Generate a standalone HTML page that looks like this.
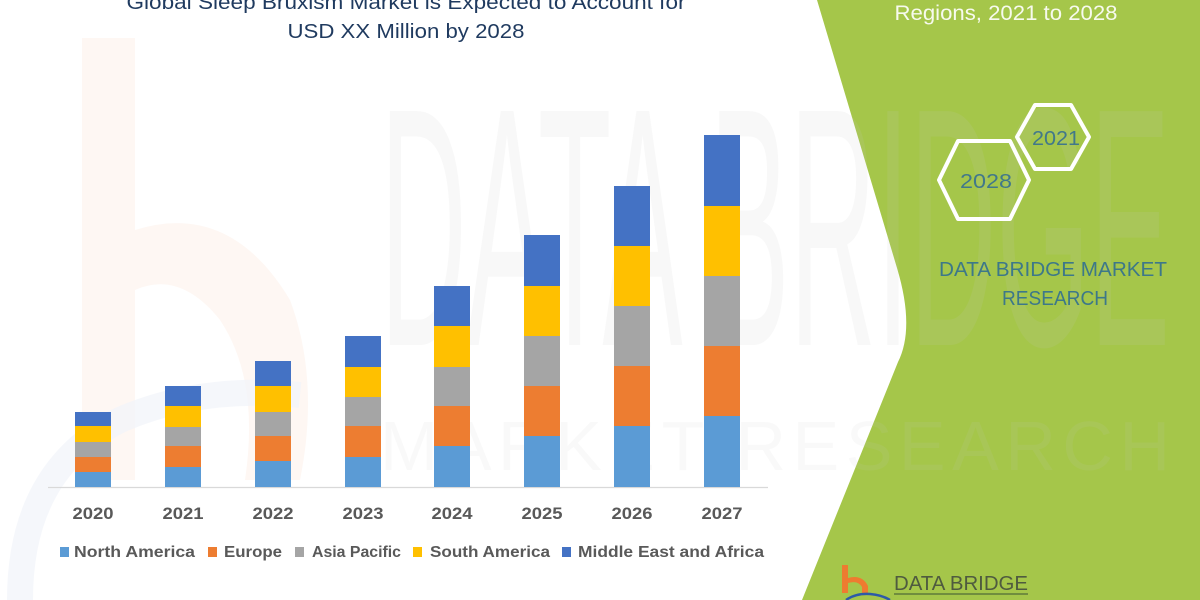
<!DOCTYPE html>
<html>
<head>
<meta charset="utf-8">
<style>
  html,body{margin:0;padding:0;background:#fff;}
  svg{display:block;}
  text{font-family:"Liberation Sans", "DejaVu Sans", sans-serif;}
</style>
</head>
<body>
<svg width="1200" height="600" viewBox="0 0 1200 600" xmlns="http://www.w3.org/2000/svg">
  <rect x="0" y="0" width="1200" height="600" fill="#ffffff"/>

  <!-- faint orange "b" watermark on left -->
  <path d="M82,38 L135,38 L135,230 Q230,200 290,300 Q320,380 300,480 L245,480 Q260,380 220,320 Q180,270 135,290 L135,480 L82,480 Z" fill="#fdf3ee" opacity="0.7"/>
  <!-- faint blue arc bottom-left -->
  <path d="M20,600 Q20,470 120,420 Q200,385 300,395" fill="none" stroke="#f1f4f9" stroke-width="26" opacity="0.7"/>

  <!-- green right panel -->
  <path d="M817,0 L897,268 Q915,328 898,362 L802,600 L1200,600 L1200,0 Z" fill="#a5c64a"/>

  <!-- faint watermark text -->
  <text x="380" y="345" font-size="340" fill="#c8c8c8" opacity="0.12" textLength="790" lengthAdjust="spacingAndGlyphs">DATA BRIDGE</text>
  <text x="380" y="470" font-size="70" fill="#c8c8c8" opacity="0.1" textLength="790" lengthAdjust="spacing">MARKET RESEARCH</text>

  <!-- Title -->
  <text x="406" y="9" font-size="20" fill="#1f3a5f" text-anchor="middle" textLength="559" lengthAdjust="spacingAndGlyphs">Global Sleep Bruxism Market is Expected to Account for</text>
  <text x="406" y="38" font-size="20" fill="#1f3a5f" text-anchor="middle" textLength="237" lengthAdjust="spacingAndGlyphs">USD XX Million by 2028</text>

  <!-- Right panel texts -->
  <text x="1006" y="20" font-size="21" fill="#f7faee" text-anchor="middle" textLength="223" lengthAdjust="spacingAndGlyphs">Regions, 2021 to 2028</text>

  <polygon points="1017,137 1035,105 1071,105 1089,137 1071,169 1035,169" fill="none" stroke="#ffffff" stroke-width="4" stroke-linejoin="round"/>
  <polygon points="939,180 958,141 1010,141 1029,180 1010,219 958,219" fill="none" stroke="#ffffff" stroke-width="4" stroke-linejoin="round"/>
  <text x="1056" y="145" font-size="20" fill="#41788a" text-anchor="middle" textLength="48" lengthAdjust="spacingAndGlyphs">2021</text>
  <text x="986" y="188" font-size="20" fill="#41788a" text-anchor="middle" textLength="52" lengthAdjust="spacingAndGlyphs">2028</text>

  <text x="1053" y="276" font-size="20" fill="#3d7889" text-anchor="middle" textLength="228" lengthAdjust="spacingAndGlyphs">DATA BRIDGE MARKET</text>
  <text x="1055" y="305" font-size="20" fill="#3d7889" text-anchor="middle" textLength="106" lengthAdjust="spacingAndGlyphs">RESEARCH</text>

  <!-- bottom logo -->
  <path d="M842,565 L848,565 L848,578 Q862,574 868,586 L868,593 L862,593 L862,587 Q858,580 848,583 L848,593 L842,593 Z" fill="#ee7b30"/>
  <path d="M846,600 Q856,593 870,594 Q882,595 890,600" fill="none" stroke="#2d5aa8" stroke-width="2.5"/>
  <text x="894" y="590" font-size="20" fill="#4f5b3f" textLength="134" lengthAdjust="spacingAndGlyphs">DATA BRIDGE</text>
  <line x1="894" y1="594" x2="1028" y2="594" stroke="#5e7a3a" stroke-width="1.5"/>

  <!-- Axis line -->
  <line x1="48" y1="487.5" x2="768" y2="487.5" stroke="#d9d9d9" stroke-width="1.2"/>

  <!-- Bars -->
  <g>
    <rect x="75" y="472" width="36" height="15" fill="#5b9bd5"/>
    <rect x="75" y="457" width="36" height="15" fill="#ed7d31"/>
    <rect x="75" y="442" width="36" height="15" fill="#a5a5a5"/>
    <rect x="75" y="426" width="36" height="16" fill="#ffc000"/>
    <rect x="75" y="412" width="36" height="14" fill="#4472c4"/>

    <rect x="165" y="467" width="36" height="20" fill="#5b9bd5"/>
    <rect x="165" y="446" width="36" height="21" fill="#ed7d31"/>
    <rect x="165" y="427" width="36" height="19" fill="#a5a5a5"/>
    <rect x="165" y="406" width="36" height="21" fill="#ffc000"/>
    <rect x="165" y="386" width="36" height="20" fill="#4472c4"/>

    <rect x="255" y="461" width="36" height="26" fill="#5b9bd5"/>
    <rect x="255" y="436" width="36" height="25" fill="#ed7d31"/>
    <rect x="255" y="412" width="36" height="24" fill="#a5a5a5"/>
    <rect x="255" y="386" width="36" height="26" fill="#ffc000"/>
    <rect x="255" y="361" width="36" height="25" fill="#4472c4"/>

    <rect x="345" y="457" width="36" height="30" fill="#5b9bd5"/>
    <rect x="345" y="426" width="36" height="31" fill="#ed7d31"/>
    <rect x="345" y="397" width="36" height="29" fill="#a5a5a5"/>
    <rect x="345" y="367" width="36" height="30" fill="#ffc000"/>
    <rect x="345" y="336" width="36" height="31" fill="#4472c4"/>

    <rect x="434" y="446" width="36" height="41" fill="#5b9bd5"/>
    <rect x="434" y="406" width="36" height="40" fill="#ed7d31"/>
    <rect x="434" y="367" width="36" height="39" fill="#a5a5a5"/>
    <rect x="434" y="326" width="36" height="41" fill="#ffc000"/>
    <rect x="434" y="286" width="36" height="40" fill="#4472c4"/>

    <rect x="524" y="436" width="36" height="51" fill="#5b9bd5"/>
    <rect x="524" y="386" width="36" height="50" fill="#ed7d31"/>
    <rect x="524" y="336" width="36" height="50" fill="#a5a5a5"/>
    <rect x="524" y="286" width="36" height="50" fill="#ffc000"/>
    <rect x="524" y="235" width="36" height="51" fill="#4472c4"/>

    <rect x="614" y="426" width="36" height="61" fill="#5b9bd5"/>
    <rect x="614" y="366" width="36" height="60" fill="#ed7d31"/>
    <rect x="614" y="306" width="36" height="60" fill="#a5a5a5"/>
    <rect x="614" y="246" width="36" height="60" fill="#ffc000"/>
    <rect x="614" y="186" width="36" height="60" fill="#4472c4"/>

    <rect x="704" y="416" width="36" height="71" fill="#5b9bd5"/>
    <rect x="704" y="346" width="36" height="70" fill="#ed7d31"/>
    <rect x="704" y="276" width="36" height="70" fill="#a5a5a5"/>
    <rect x="704" y="206" width="36" height="70" fill="#ffc000"/>
    <rect x="704" y="135" width="36" height="71" fill="#4472c4"/>
  </g>

  <!-- Year labels -->
  <g font-size="17" font-weight="bold" fill="#595959" text-anchor="middle">
    <text x="93" y="519" textLength="41" lengthAdjust="spacingAndGlyphs">2020</text>
    <text x="183" y="519" textLength="41" lengthAdjust="spacingAndGlyphs">2021</text>
    <text x="273" y="519" textLength="41" lengthAdjust="spacingAndGlyphs">2022</text>
    <text x="363" y="519" textLength="41" lengthAdjust="spacingAndGlyphs">2023</text>
    <text x="452" y="519" textLength="41" lengthAdjust="spacingAndGlyphs">2024</text>
    <text x="542" y="519" textLength="41" lengthAdjust="spacingAndGlyphs">2025</text>
    <text x="632" y="519" textLength="41" lengthAdjust="spacingAndGlyphs">2026</text>
    <text x="722" y="519" textLength="41" lengthAdjust="spacingAndGlyphs">2027</text>
  </g>

  <!-- Legend -->
  <g font-size="16" font-weight="bold" fill="#595959">
    <rect x="60" y="547" width="9" height="10" fill="#5b9bd5"/>
    <text x="74" y="557" textLength="121" lengthAdjust="spacingAndGlyphs">North America</text>
    <rect x="208" y="547" width="9" height="10" fill="#ed7d31"/>
    <text x="224" y="557" textLength="58" lengthAdjust="spacingAndGlyphs">Europe</text>
    <rect x="295" y="547" width="9" height="10" fill="#a5a5a5"/>
    <text x="312" y="557" textLength="89" lengthAdjust="spacingAndGlyphs">Asia Pacific</text>
    <rect x="413" y="547" width="9" height="10" fill="#ffc000"/>
    <text x="430" y="557" textLength="120" lengthAdjust="spacingAndGlyphs">South America</text>
    <rect x="562" y="547" width="9" height="10" fill="#4472c4"/>
    <text x="578" y="557" textLength="186" lengthAdjust="spacingAndGlyphs">Middle East and Africa</text>
  </g>
</svg>
</body>
</html>
